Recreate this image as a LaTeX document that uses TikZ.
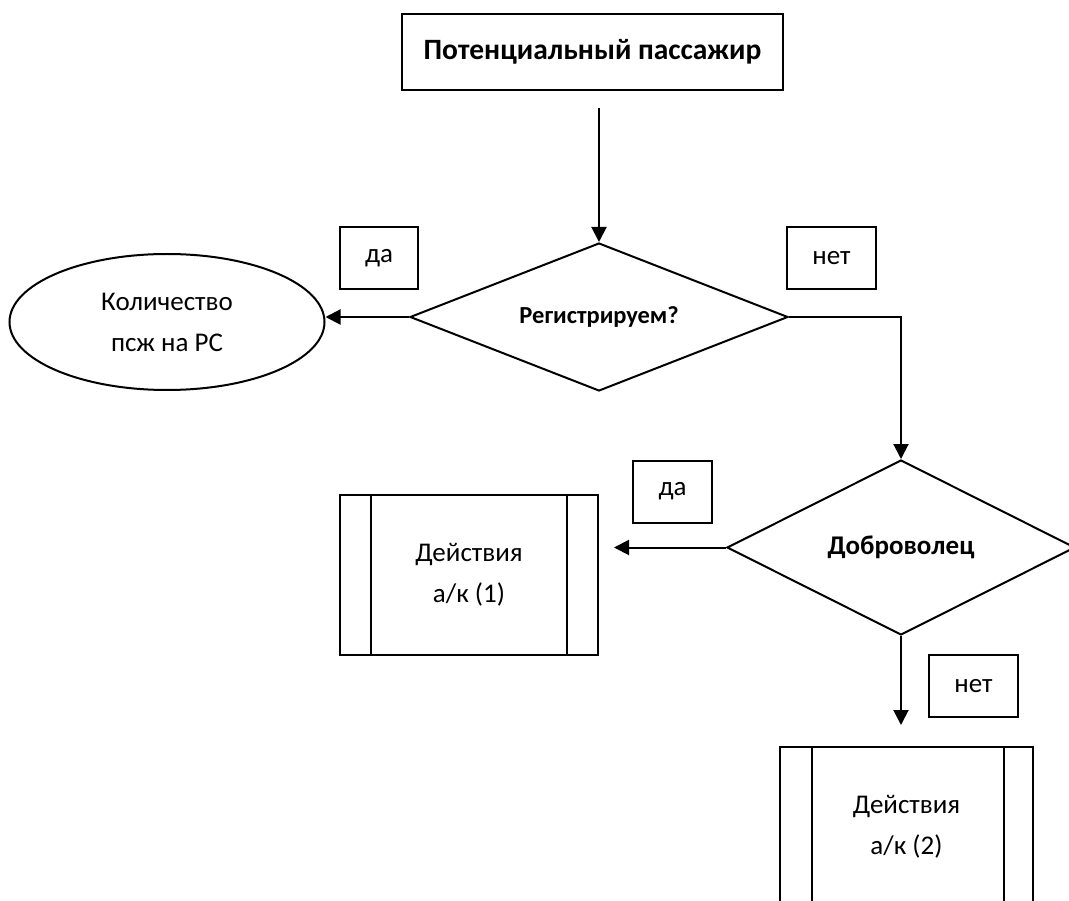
\documentclass[tikz,border=0pt]{standalone}
\usepackage{fontspec}
\setmainfont{Carlito}
\usetikzlibrary{arrows.meta}
\usetikzlibrary{shapes.geometric}
\usetikzlibrary{positioning}

\begin{document}
\begin{tikzpicture}[>={Triangle[length=15pt,width=15pt]}, x=1pt, y=-1pt, line width=2pt,
    font=\fontsize{27}{41}\selectfont,
    startbox/.style={draw, minimum width=381pt, minimum height=76pt, font=\fontsize{29.5}{40}\selectfont\bfseries},
    answer/.style={draw, minimum height=62pt},
    decision/.style={draw, diamond, inner sep=0pt},
    result/.style={draw, ellipse, align=center},
    process/.style={draw, align=center, minimum width=256pt, minimum height=160pt}]

    \clip (0,0) rectangle (1069,901);

    \node[startbox] (pass) at (592.5,52) {Потенциальный пассажир};

    \node[decision, aspect=2.55, minimum width=378pt, minimum height=148pt, font=\fontsize{24.5}{30}\selectfont\bfseries] (reg) at (599,317) {Регистрируем?};
    \node[result, minimum width=315pt, minimum height=136pt] (count) at (167,322) {Количество\\псж на РС};

    \node[answer, minimum width=78pt] (yes1) at (379,258) {да};
    \node[answer, minimum width=89pt] (no1) at (831.5,258) {нет};

    \node[decision, aspect=2, minimum width=348pt, minimum height=175pt, font=\fontsize{27}{40}\selectfont\bfseries] (vol) at (901,547.5) {Доброволец};

    \node[answer, minimum width=79pt] (yes2) at (672.5,491.5) {да};
    \node[answer, minimum width=89pt] (no2) at (973.5,686) {нет};

    \node[process, minimum width=258pt] (act1) at (469,575) {Действия\\а/к (1)};
    \node[process, minimum width=253pt] (act2) at (906.5,827) {Действия\\а/к (2)};

    % side bars of the process boxes
    \draw ([xshift=32pt]act1.north west) -- ([xshift=32pt]act1.south west);
    \draw ([xshift=-32pt]act1.north east) -- ([xshift=-32pt]act1.south east);
    \draw ([xshift=33pt]act2.north west) -- ([xshift=33pt]act2.south west);
    \draw ([xshift=-30pt]act2.north east) -- ([xshift=-30pt]act2.south east);

    \draw[->] ([yshift=-17pt]pass.south -| reg.north) -- (reg.north);
    \draw[->] (reg.west) -- (reg.west -| count.east);
    \draw[->] (reg.east) -| (vol.north);
    \draw[->] (vol.west) -- ([xshift=15pt]vol.west -| act1.east);
    \draw[->] (vol.south) -- ([yshift=21pt]vol.south |- act2.north);

\end{tikzpicture}
\end{document}
